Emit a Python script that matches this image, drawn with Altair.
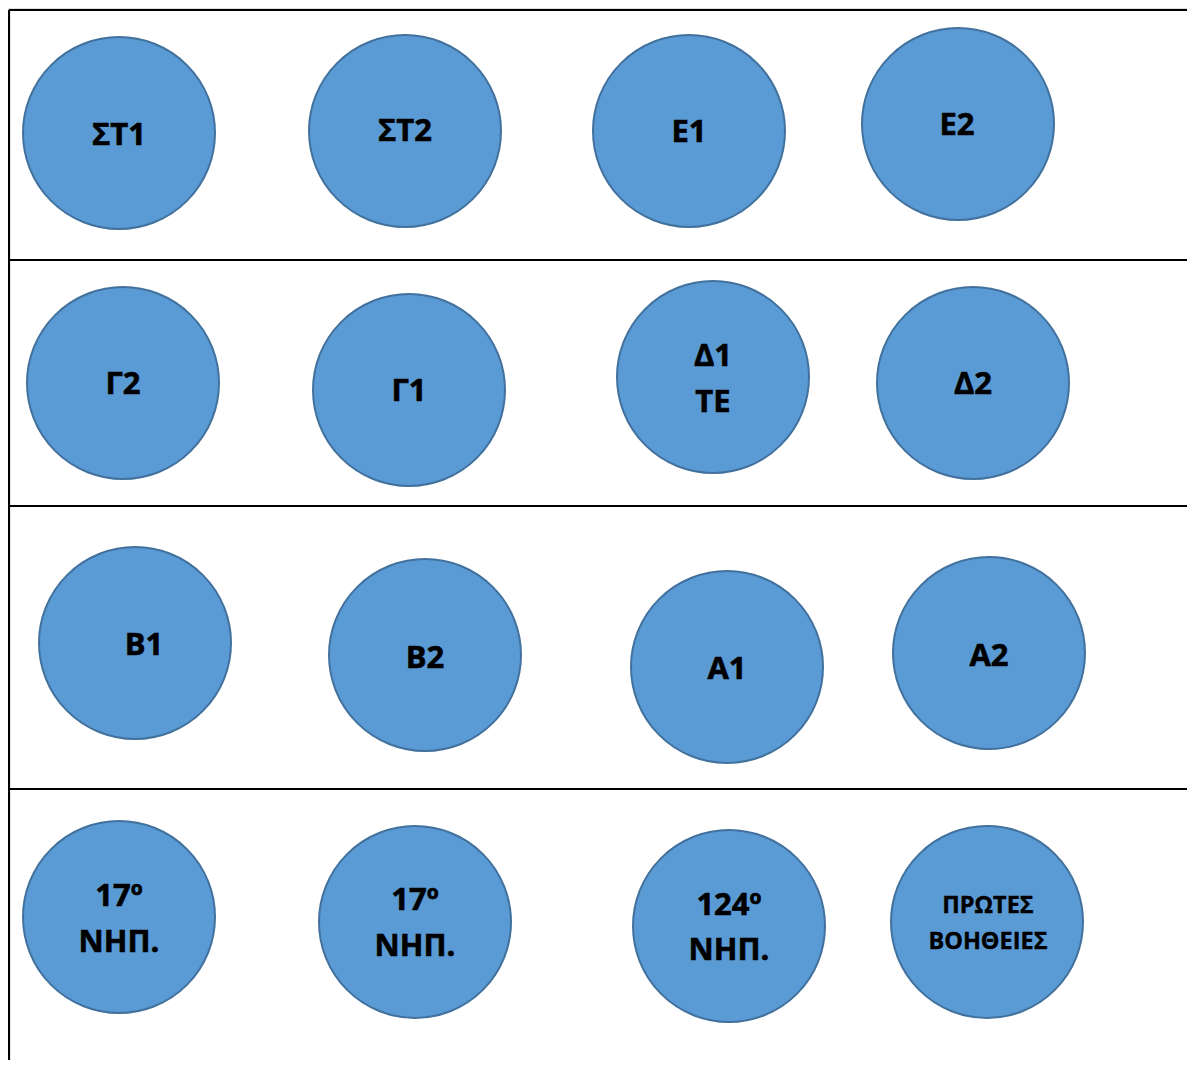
import altair as alt
import pandas as pd

# Circles (centre x, centre y in page pixels)
circle_ids = ["ΣΤ1", "ΣΤ2", "Ε1", "Ε2",
              "Γ2", "Γ1", "Δ1 ΤΕ", "Δ2",
              "Β1", "Β2", "Α1", "Α2",
              "17 ΝΗΠ a", "17 ΝΗΠ b", "124 ΝΗΠ", "ΠΡΩΤΕΣ ΒΟΗΘΕΙΕΣ"]
circle_x = [119, 405, 689, 958,
            123, 409, 713, 973,
            135, 425, 727, 989,
            119, 415, 729, 987]
circle_y = [133, 131, 131, 124,
            383, 390, 377, 383,
            643, 655, 667, 653,
            917, 922, 926, 922]

# Text lines
text_lines = ["ΣΤ1", "ΣΤ2", "Ε1", "Ε2",
              "Γ2", "Γ1", "Δ1", "ΤΕ", "Δ2",
              "Β1", "Β2", "Α1", "Α2",
              "17º", "ΝΗΠ.", "17º", "ΝΗΠ.", "124º", "ΝΗΠ.",
              "ΠΡΩΤΕΣ", "ΒΟΗΘΕΙΕΣ"]
text_x = [119, 405, 689, 957,
          123, 409, 713, 713, 973,
          144, 425, 727, 989,
          119, 119, 415, 415, 729, 729,
          988, 988]
text_y = [136, 132, 133, 126,
          385, 392, 357, 403, 385,
          646, 659, 670, 657,
          897, 943, 901, 947, 906, 951,
          906, 942]
text_size = ["big"] * 19 + ["small"] * 2

# Table grid lines
hline_y = [10, 260, 506, 789]
vline_x = [9]

X0, X1 = 8, 1187
Y0, Y1 = 8, 1060

xs = alt.Scale(domain=[X0, X1], nice=False, zero=False)
ys = alt.Scale(domain=[Y0, Y1], nice=False, zero=False, reverse=True)

circles = pd.DataFrame({"id": circle_ids, "x": circle_x, "y": circle_y})
texts = pd.DataFrame({"t": text_lines, "x": text_x, "y": text_y, "s": text_size})
hlines = pd.DataFrame({"y": hline_y, "x": [vline_x[0]] * len(hline_y), "x2": [X1] * len(hline_y)})
vlines = pd.DataFrame({"x": vline_x, "y": [hline_y[0]], "y2": [Y1]})

h = alt.Chart(hlines).mark_rule(color="black", strokeWidth=2.2).encode(
    x=alt.X("x:Q", scale=xs, axis=None),
    x2="x2:Q",
    y=alt.Y("y:Q", scale=ys, axis=None),
)
v = alt.Chart(vlines).mark_rule(color="black", strokeWidth=2.2).encode(
    x=alt.X("x:Q", scale=xs, axis=None),
    y=alt.Y("y:Q", scale=ys, axis=None),
    y2="y2:Q",
)
c = alt.Chart(circles).mark_point(
    shape="circle", filled=True, fill="#5B9BD5", stroke="#41719C",
    strokeWidth=2, opacity=1, fillOpacity=1, strokeOpacity=1, size=192 * 192,
).encode(
    x=alt.X("x:Q", scale=xs, axis=None),
    y=alt.Y("y:Q", scale=ys, axis=None),
)
tb = alt.Chart(texts).transform_filter(alt.datum.s == "big").mark_text(
    font="Open Sans", fontWeight="bold", fontSize=31, color="black",
    stroke="black", strokeWidth=0.6,
    align="center", baseline="middle",
).encode(
    x=alt.X("x:Q", scale=xs, axis=None),
    y=alt.Y("y:Q", scale=ys, axis=None),
    text="t:N",
)
ts = alt.Chart(texts).transform_filter(alt.datum.s == "small").mark_text(
    font="Open Sans", fontWeight="bold", fontSize=23.5, color="black",
    stroke="black", strokeWidth=0.4,
    align="center", baseline="middle",
).encode(
    x=alt.X("x:Q", scale=xs, axis=None),
    y=alt.Y("y:Q", scale=ys, axis=None),
    text="t:N",
)

chart = alt.layer(h, v, c, tb, ts).properties(
    width=X1 - X0, height=Y1 - Y0, padding=0,
    autosize=alt.AutoSizeParams(type="none"),
).configure_view(stroke=None).configure(background="white")

chart.save("out.html", embed_options={"renderer": "svg", "actions": False})
